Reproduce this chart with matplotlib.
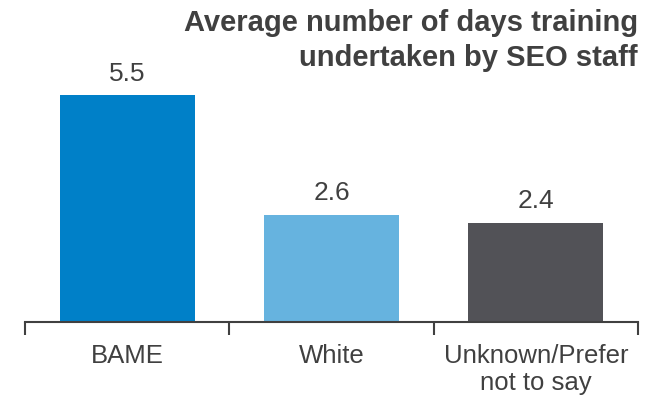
import matplotlib.pyplot as plt
import numpy as np

categories = ["BAME", "White", "Unknown/Prefer\nnot to say"]
values = [5.5, 2.6, 2.4]
value_labels = ["5.5", "2.6", "2.4"]
colors = ["#0080C8", "#66B3DF", "#525257"]
title = "Average number of days training\nundertaken by SEO staff"

plt.rcParams['font.family'] = ['Liberation Sans', 'DejaVu Sans']
text_color = "#404040"

fig = plt.figure(figsize=(6.6, 3.96), dpi=100)
ax = fig.add_axes([25 / 660, 74 / 396, 613 / 660, 268 / 396])

x = np.arange(len(categories))
bars = ax.bar(x, values, width=0.66, color=colors)

for b, lab in zip(bars, value_labels):
    ax.annotate(lab, (b.get_x() + b.get_width() / 2, b.get_height()),
                xytext=(0, 7), textcoords="offset points",
                ha="center", va="bottom", fontsize=19, color=text_color)

ax.set_xlim(-0.5, len(categories) - 0.5)
ax.set_ylim(0, 6.5)

for s in ["top", "right", "left"]:
    ax.spines[s].set_visible(False)
ax.spines["bottom"].set_color(text_color)
ax.spines["bottom"].set_linewidth(1.5)

ax.set_yticks([])
ax.set_xticks(x)
ax.set_xticklabels(categories, fontsize=18.5, color=text_color, linespacing=1.15)
ax.set_xticks(np.arange(len(categories) + 1) - 0.5, minor=True)
ax.tick_params(axis="x", which="major", length=0, pad=16)
ax.tick_params(axis="x", which="minor", length=9, width=1.5, color=text_color)

fig.text(638 / 660, 1 - 9 / 396, title, ha="right", va="top", fontsize=21,
         fontweight="bold", color=text_color, linespacing=1.3)

fig.savefig("out.png", dpi=100)
